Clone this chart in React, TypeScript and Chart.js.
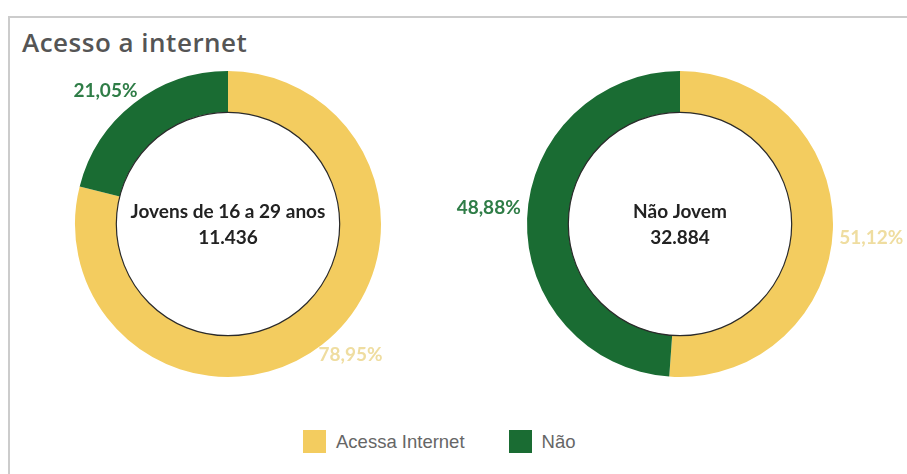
import React, { useEffect, useRef } from "react";
import { Chart, registerables } from "chart.js";

Chart.register(...registerables);

const categories = ["Acessa Internet", "Não"];
const jovensValues = [78.95, 21.05];
const naoJovemValues = [51.12, 48.88];
const groupNames = ["Jovens de 16 a 29 anos", "Não Jovem"];
const groupTotals = ["11.436", "32.884"];
const titleText = "Acesso a internet";

const sliceColors = ["#F3CC5F", "#1A6C33"];
const labelColors = ["#EFDDA0", "#2F7D47"];

const LABEL_GAP = 7;
const LABEL_ANGLE_SHIFT = 0.06;

function fmt(v: number) {
  return v.toFixed(2).replace(".", ",") + "%";
}

function makePlugin(name: string, total: string) {
  return {
    id: "donutDecor",
    afterDatasetsDraw(chart: any) {
      const ctx = chart.ctx as CanvasRenderingContext2D;
      const meta = chart.getDatasetMeta(0);
      const data = chart.data.datasets[0].data as number[];
      if (!meta.data.length) return;
      const first = meta.data[0] as any;
      const cx = first.x;
      const cy = first.y;
      const inner = first.innerRadius;
      ctx.save();
      ctx.beginPath();
      ctx.arc(cx, cy, inner, 0, Math.PI * 2);
      ctx.strokeStyle = "#2a2a2a";
      ctx.lineWidth = 1.2;
      ctx.stroke();
      ctx.fillStyle = "#222";
      ctx.font = "bold 19px Lato, 'Open Sans', sans-serif";
      ctx.textAlign = "center";
      ctx.textBaseline = "middle";
      ctx.fillText(name, cx, cy - 12);
      ctx.fillText(total, cx, cy + 14);
      ctx.font = "bold 19px Lato, 'Open Sans', sans-serif";
      meta.data.forEach((arc: any, i: number) => {
        const mid = (arc.startAngle + arc.endAngle) / 2 + LABEL_ANGLE_SHIFT;
        const r = arc.outerRadius + LABEL_GAP;
        const px = arc.x + Math.cos(mid) * r;
        const py = arc.y + Math.sin(mid) * r;
        ctx.fillStyle = labelColors[i];
        ctx.textAlign = Math.cos(mid) < 0 ? "right" : "left";
        ctx.textBaseline = "middle";
        ctx.fillText(fmt(data[i]), px, py - 1);
      });
      ctx.restore();
    },
  };
}

function Donut(props: { values: number[]; name: string; total: string; left: number; width: number }) {
  const ref = useRef<HTMLCanvasElement | null>(null);
  useEffect(() => {
    if (!ref.current) return;
    const chart = new Chart(ref.current, {
      type: "doughnut",
      data: {
        labels: categories,
        datasets: [
          {
            data: props.values,
            backgroundColor: sliceColors,
            borderWidth: 0,
          },
        ],
      },
      options: {
        animation: false,
        responsive: false,
        devicePixelRatio: 1,
        cutout: "73%",
        layout: { padding: { top: 15, bottom: 15, left: 0, right: 0 } },
        plugins: { legend: { display: false }, tooltip: { enabled: false } },
      },
      plugins: [makePlugin(props.name, props.total)],
    } as any);
    return () => chart.destroy();
  }, []);
  return (
    <canvas
      ref={ref}
      width={props.width}
      height={336}
      style={{ position: "absolute", left: props.left, top: 56, width: props.width, height: 336 }}
    />
  );
}

export default function App() {
  return (
    <div>
      <div
        style={{
          position: "absolute",
          left: 8,
          top: 16,
          width: 899,
          height: 458,
          boxSizing: "border-box",
          borderTop: "2px solid #cccccc",
          borderLeft: "2px solid #cccccc",
          background: "#fff",
        }}
      />
      <div
        style={{
          position: "absolute",
          left: 22,
          top: 27,
          fontFamily: "'Open Sans', Lato, sans-serif",
          fontWeight: 600,
          fontSize: 26,
          letterSpacing: 0.5,
          lineHeight: "30px",
          color: "#555",
          whiteSpace: "nowrap",
        }}
      >
        {titleText}
      </div>
      <Donut values={jovensValues} name={groupNames[0]} total={groupTotals[0]} left={8} width={440} />
      <Donut values={naoJovemValues} name={groupNames[1]} total={groupTotals[1]} left={453} width={454} />
      <div
        style={{
          position: "absolute",
          left: 303,
          top: 430,
          display: "flex",
          alignItems: "center",
          fontFamily: "'Liberation Sans', Arial, sans-serif",
          fontSize: 18.5,
          color: "#666",
          whiteSpace: "nowrap",
        }}
      >
        {categories.map((c, i) => (
          <div key={c} style={{ display: "flex", alignItems: "center", marginRight: i === 0 ? 44 : 0 }}>
            <div style={{ width: 23, height: 23, background: sliceColors[i], marginRight: 10 }} />
            <span style={{ lineHeight: "23px" }}>{c}</span>
          </div>
        ))}
      </div>
    </div>
  );
}
